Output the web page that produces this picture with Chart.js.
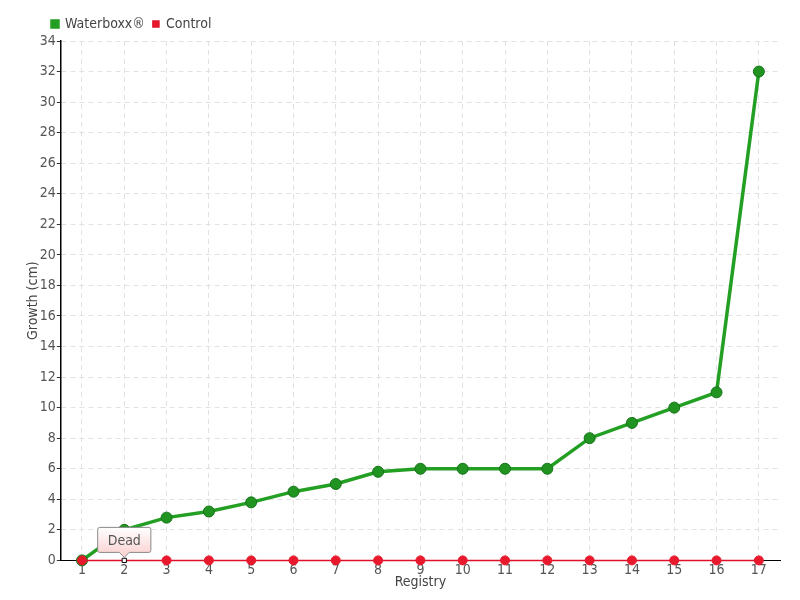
<!DOCTYPE html>
<html>
<head>
<meta charset="utf-8">
<script src="https://cdn.jsdelivr.net/npm/chart.js@4/dist/chart.umd.min.js"></script>
<style>
  html, body { margin: 0; padding: 0; background: #fff; }
  #wrap { width: 800px; height: 600px; }
</style>
</head>
<body>
<div id="wrap"><canvas id="chart"></canvas></div>
<script>
const registry = ['1','2','3','4','5','6','7','8','9','10','11','12','13','14','15','16','17'];
const waterboxx = [0, 2, 2.8, 3.2, 3.8, 4.5, 5, 5.8, 6, 6, 6, 6, 8, 9, 10, 11, 32];
const control = [0, 0, 0, 0, 0, 0, 0, 0, 0, 0, 0, 0, 0, 0, 0, 0, 0];
const notes = [{ index: 1, text: 'Dead' }];

const FONT = "'DejaVu Sans Condensed', 'Liberation Sans Narrow', sans-serif";

// white square marker where a note is attached to the control series
const isNote = i => notes.some(n => n.index === i);
const controlStyle = control.map((_, i) => isNote(i) ? 'rect' : 'circle');
const controlFill = control.map((_, i) => isNote(i) ? '#ffffff' : '#e8192c');
const controlBorder = control.map((_, i) => isNote(i) ? '#000000' : '#e8192c');
const controlRadius = control.map((_, i) => isNote(i) ? 3 : 4.5);

const notePlugin = {
  id: 'notes',
  afterLayout(chart) {
    // legend sits over the plot area, not at the canvas edge
    chart.legend.left += 19;
    chart.legend.right += 19;
  },
  afterDatasetsDraw(chart) {
    const ctx = chart.ctx;
    const xs = chart.scales.x, ys = chart.scales.y;
    notes.forEach(n => {
      const px = xs.getPixelForValue(n.index);
      const py = ys.getPixelForValue(control[n.index]);
      ctx.save();
      ctx.font = '14px ' + FONT;
      const w = ctx.measureText(n.text).width + 20;
      const h = 25;
      const x0 = px - w / 2, y0 = py - 8 - h;
      const g = ctx.createLinearGradient(0, y0, 0, y0 + h);
      g.addColorStop(0, '#ffffff');
      g.addColorStop(1, '#fbd6d6');
      ctx.beginPath();
      ctx.moveTo(x0 + 2, y0);
      ctx.lineTo(x0 + w - 2, y0);
      ctx.quadraticCurveTo(x0 + w, y0, x0 + w, y0 + 2);
      ctx.lineTo(x0 + w, y0 + h - 2);
      ctx.quadraticCurveTo(x0 + w, y0 + h, x0 + w - 2, y0 + h);
      ctx.lineTo(px + 5, y0 + h);
      ctx.lineTo(px, y0 + h + 5);
      ctx.lineTo(px - 5, y0 + h);
      ctx.lineTo(x0 + 2, y0 + h);
      ctx.quadraticCurveTo(x0, y0 + h, x0, y0 + h - 2);
      ctx.lineTo(x0, y0 + 2);
      ctx.quadraticCurveTo(x0, y0, x0 + 2, y0);
      ctx.closePath();
      ctx.fillStyle = g;
      ctx.fill();
      ctx.strokeStyle = '#8a8a8a';
      ctx.lineWidth = 1;
      ctx.stroke();
      ctx.fillStyle = '#555';
      ctx.textAlign = 'center';
      ctx.textBaseline = 'middle';
      ctx.fillText(n.text, px, y0 + h / 2 + 1);
      ctx.restore();
    });
  }
};

new Chart(document.getElementById('chart'), {
  type: 'line',
  data: {
    labels: registry,
    datasets: [
      {
        label: 'Waterboxx®',
        data: waterboxx,
        borderColor: '#23a023',
        backgroundColor: '#1f9a1f',
        borderWidth: 3.5,
        pointRadius: 5.5,
        pointBackgroundColor: '#209320',
        pointBorderColor: '#16731a',
        pointBorderWidth: 1,
        tension: 0,
        clip: false,
        order: 1
      },
      {
        label: 'Control',
        data: control,
        borderColor: '#e0102a',
        backgroundColor: '#e8192c',
        borderWidth: 1.5,
        pointStyle: controlStyle,
        pointRadius: controlRadius,
        pointBackgroundColor: controlFill,
        pointBorderColor: controlBorder,
        pointBorderWidth: 1,
        tension: 0,
        clip: false,
        order: 0
      }
    ]
  },
  options: {
    responsive: true,
    maintainAspectRatio: false,
    animation: false,
    layout: { padding: { top: 9, right: 20, left: 25, bottom: 9 } },
    plugins: {
      tooltip: { enabled: false },
      legend: {
        position: 'top',
        align: 'start',
        labels: {
          boxWidth: 6,
          boxHeight: 6,
          padding: 8,
          color: '#444',
          font: { family: FONT, size: 14 },
          sort: (a, b) => a.datasetIndex - b.datasetIndex
        }
      }
    },
    scales: {
      x: {
        offset: true,
        grid: { offset: false, color: '#e2e2e2', tickLength: 0, drawTicks: false },
        border: { color: '#000', width: 1, dash: [5, 4] },
        ticks: { color: '#555', padding: 2, font: { family: FONT, size: 14 }, maxRotation: 0 },
        title: { display: true, text: 'Registry', color: '#444', padding: { top: -7, bottom: 0 }, font: { family: FONT, size: 14 } }
      },
      y: {
        min: 0,
        max: 34,
        grid: { color: '#e2e2e2', tickColor: '#333', tickLength: 4 },
        border: { color: '#000', width: 1.5, dash: [5, 4] },
        ticks: { stepSize: 2, color: '#555', padding: 1, font: { family: FONT, size: 14 } },
        title: { display: true, text: 'Growth (cm)', color: '#444', padding: { top: 0, bottom: -3 }, font: { family: FONT, size: 14 } }
      }
    }
  },
  plugins: [notePlugin]
});
</script>
</body>
</html>
